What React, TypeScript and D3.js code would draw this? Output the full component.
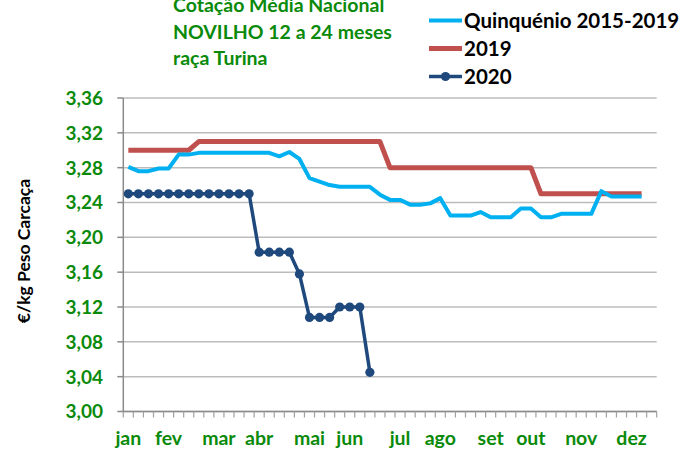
import React from "react";
import * as d3 from "d3";

const WIDTH = 694;
const HEIGHT = 455;

const monthLabels = ["jan", "fev", "mar", "abr", "mai", "jun", "jul", "ago", "set", "out", "nov", "dez"];
const monthWeekIndex = [0, 4, 9, 13, 18, 22, 27, 31, 36, 40, 45, 50];
const weekCount = 53;

const yTicks = [3.0, 3.04, 3.08, 3.12, 3.16, 3.2, 3.24, 3.28, 3.32, 3.36];

const quinquenio = [
  3.281, 3.276, 3.276, 3.279, 3.279, 3.295, 3.295, 3.297, 3.297, 3.297,
  3.297, 3.297, 3.297, 3.297, 3.297, 3.293, 3.298, 3.29, 3.268, 3.264,
  3.26, 3.258, 3.258, 3.258, 3.258, 3.249, 3.243, 3.243, 3.2375, 3.2375,
  3.239, 3.245, 3.225, 3.225, 3.225, 3.229, 3.223, 3.223, 3.223, 3.233,
  3.233, 3.223, 3.223, 3.227, 3.227, 3.227, 3.227, 3.253, 3.247, 3.247,
  3.247, 3.247,
];

const y2019 = [
  3.3, 3.3, 3.3, 3.3, 3.3, 3.3, 3.3, 3.31, 3.31, 3.31,
  3.31, 3.31, 3.31, 3.31, 3.31, 3.31, 3.31, 3.31, 3.31, 3.31,
  3.31, 3.31, 3.31, 3.31, 3.31, 3.31, 3.28, 3.28, 3.28, 3.28,
  3.28, 3.28, 3.28, 3.28, 3.28, 3.28, 3.28, 3.28, 3.28, 3.28,
  3.28, 3.25, 3.25, 3.25, 3.25, 3.25, 3.25, 3.25, 3.25, 3.25,
  3.25, 3.25,
];

const y2020 = [
  3.25, 3.25, 3.25, 3.25, 3.25, 3.25, 3.25, 3.25, 3.25, 3.25,
  3.25, 3.25, 3.25, 3.183, 3.183, 3.183, 3.183, 3.158, 3.108, 3.108,
  3.108, 3.12, 3.12, 3.12, 3.045,
];

const titleLines = ["Cotação Média Nacional", "NOVILHO 12 a 24 meses", "raça Turina"];
const legendNames = ["Quinquénio 2015-2019", "2019", "2020"];
const yAxisTitle = "€/kg Peso Carcaça";

const GREEN = "#0a8a0a";
const C_Q = "#00b0f0";
const C_19 = "#c0504d";
const C_20 = "#1f497d";
const FONT = "Lato, 'Open Sans', sans-serif";

export default function App() {
  const left = 123.3;
  const right = 656.7;
  const top = 98;
  const bottom = 411.5;

  const x = d3.scaleBand<number>().domain(d3.range(weekCount)).range([left, right]).paddingInner(0).paddingOuter(0);
  const y = d3.scaleLinear().domain([3.0, 3.36]).range([bottom, top]);
  const cx = (i: number) => (x(i) as number) + x.bandwidth() / 2;

  const line = d3
    .line<number>()
    .x((_, i) => cx(i))
    .y((d) => y(d));

  const fmt = (v: number) => d3.format(".2f")(v).replace(".", ",");
  const boundaries = d3.range(weekCount + 1).map((i) => left + i * x.bandwidth());

  const legendY = [20.5, 48.5, 76.5];
  const legendColors = [C_Q, C_19, C_20];
  const legendWidths = [4, 5, 3.5];

  return (
    <svg
      width={WIDTH}
      height={HEIGHT}
      style={{ position: "absolute", left: 0, top: 0, background: "#fff" }}
      fontFamily={FONT}
      fontWeight="bold"
    >
      <rect width={WIDTH} height={HEIGHT} fill="#fff" />
      {/* gridlines */}
      {yTicks.map((t) => (
        <line key={"g" + t} x1={left} x2={right} y1={y(t)} y2={y(t)} stroke="#bcbcbc" strokeWidth={1.5} />
      ))}
      {/* y axis */}
      <line x1={left} x2={left} y1={top} y2={bottom} stroke="#8a8a8a" strokeWidth={1.5} />
      {yTicks.map((t) => (
        <line key={"yt" + t} x1={left - 6} x2={left} y1={y(t)} y2={y(t)} stroke="#8a8a8a" strokeWidth={1.5} />
      ))}
      {yTicks.map((t) => (
        <text key={"yl" + t} x={103} y={y(t)} dy="0.36em" textAnchor="end" fill={GREEN} fontSize={19}>
          {fmt(t)}
        </text>
      ))}
      {/* x axis */}
      <line x1={left} x2={right} y1={bottom} y2={bottom} stroke="#8a8a8a" strokeWidth={1.5} />
      {boundaries.map((b, i) => (
        <line key={"xt" + i} x1={b} x2={b} y1={bottom} y2={bottom + 6} stroke="#a0a0a0" strokeWidth={1.2} />
      ))}
      {monthLabels.map((m, k) => (
        <text key={m} x={cx(monthWeekIndex[k])} y={445} textAnchor="middle" fill={GREEN} fontSize={19.5}>
          {m}
        </text>
      ))}
      {/* y axis title */}
      <text
        transform={`translate(30,251) rotate(-90)`}
        textAnchor="middle"
        fill="#000"
        fontSize={17.5}
      >
        {yAxisTitle}
      </text>
      {/* series */}
      <path d={line(y2019) || ""} fill="none" stroke={C_19} strokeWidth={5} strokeLinejoin="round" />
      <path d={line(quinquenio) || ""} fill="none" stroke={C_Q} strokeWidth={4} strokeLinejoin="round" />
      <path d={line(y2020) || ""} fill="none" stroke={C_20} strokeWidth={3.5} strokeLinejoin="round" />
      {y2020.map((v, i) => (
        <circle key={"p" + i} cx={cx(i)} cy={y(v)} r={4.6} fill={C_20} />
      ))}
      {/* title */}
      {titleLines.map((t, i) => (
        <text key={t} x={173} y={12 + i * 26.5} fill={GREEN} fontSize={19.5}>
          {t}
        </text>
      ))}
      {/* legend */}
      {legendNames.map((n, i) => (
        <g key={n}>
          <line x1={429} x2={462} y1={legendY[i]} y2={legendY[i]} stroke={legendColors[i]} strokeWidth={legendWidths[i]} />
          {i === 2 && <circle cx={445.5} cy={legendY[i]} r={4.6} fill={C_20} />}
          <text x={464} y={legendY[i]} dy="0.36em" fill="#000" fontSize={20.5}>
            {n}
          </text>
        </g>
      ))}
    </svg>
  );
}
